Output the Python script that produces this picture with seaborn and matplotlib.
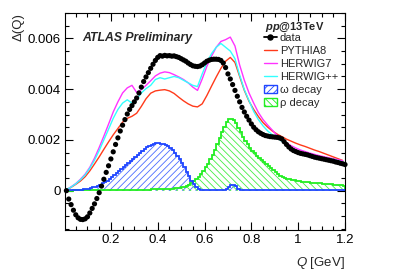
"""
Delta(Q) vs Q: ATLAS preliminary data compared to MC and resonance decays.
"""

import numpy as np
import matplotlib
matplotlib.use("Agg")
import matplotlib.pyplot as plt
from matplotlib.lines import Line2D
from matplotlib.patches import Patch
from matplotlib.ticker import MultipleLocator, FuncFormatter
import seaborn as sns

# values are in units of 1e-3
q_data = np.round(np.arange(0.01, 1.205, 0.01), 3)
data_vals = [
    0.0, -0.33, -0.55, -0.77, -0.95, -1.07, -1.13, -1.14, -1.11, -1.03,
    -0.88, -0.70, -0.52, -0.31, -0.08, 0.18, 0.45, 0.72, 0.98, 1.25,
    1.53, 1.82, 2.08, 2.35, 2.58, 2.80, 3.02, 3.20, 3.35, 3.50,
    3.65, 3.85, 4.08, 4.30, 4.48, 4.65, 4.82, 4.98, 5.13, 5.25,
    5.32, 5.30, 5.33, 5.31, 5.32, 5.30, 5.31, 5.28, 5.25, 5.20,
    5.15, 5.10, 5.03, 4.97, 4.92, 4.90, 4.89, 4.91, 4.96, 5.03,
    5.10, 5.14, 5.17, 5.18, 5.18, 5.17, 5.13, 5.03, 4.85, 4.60,
    4.40, 4.18, 3.95, 3.72, 3.50, 3.28, 3.10, 2.93, 2.78, 2.63,
    2.50, 2.40, 2.32, 2.26, 2.21, 2.17, 2.15, 2.13, 2.12, 2.11,
    2.10, 2.08, 2.04, 1.93, 1.82, 1.72, 1.64, 1.58, 1.54, 1.50,
    1.47, 1.45, 1.43, 1.41, 1.38, 1.35, 1.32, 1.30, 1.28, 1.26,
    1.24, 1.22, 1.20, 1.18, 1.16, 1.13, 1.11, 1.08, 1.06, 1.03,
]

q_mc = np.round(np.arange(0.01, 1.2, 0.02), 3)
pythia8 = [
    0.03, 0.13, 0.25, 0.38, 0.55, 0.78, 1.05, 1.33, 1.63, 1.92,
    2.20, 2.45, 2.70, 2.85, 2.93, 3.05, 3.32, 3.62, 3.84, 3.93,
    3.96, 3.98, 3.93, 3.83, 3.68, 3.54, 3.42, 3.33, 3.30, 3.42,
    3.75, 4.12, 4.48, 4.82, 5.10, 5.25, 5.05, 4.50, 3.95, 3.52,
    3.20, 2.92, 2.68, 2.50, 2.35, 2.23, 2.13, 2.03, 1.95, 1.87,
    1.80, 1.74, 1.67, 1.60, 1.54, 1.47, 1.40, 1.33, 1.26, 1.19,
]
herwig7 = [
    0.04, 0.15, 0.28, 0.45, 0.65, 0.92, 1.28, 1.70, 2.15, 2.62,
    3.10, 3.50, 3.85, 4.05, 4.15, 3.87, 3.98, 4.15, 4.33, 4.52,
    4.63, 4.68, 4.65, 4.57, 4.48, 4.38, 4.25, 4.08, 3.95, 4.40,
    4.90, 5.30, 5.65, 5.88, 5.95, 6.05, 5.70, 4.95, 4.35, 3.85,
    3.45, 3.08, 2.80, 2.58, 2.38, 2.18, 2.03, 1.88, 1.77, 1.68,
    1.60, 1.54, 1.48, 1.43, 1.38, 1.34, 1.30, 1.26, 1.22, 1.18,
]
herwigpp = [
    0.04, 0.14, 0.27, 0.43, 0.62, 0.88, 1.20, 1.58, 2.00, 2.42,
    2.85, 3.20, 3.45, 3.58, 3.45, 3.60, 3.85, 4.02, 4.15, 4.38,
    4.45, 4.40, 4.45, 4.50, 4.45, 4.35, 4.25, 4.15, 4.10, 4.60,
    5.05, 5.40, 5.65, 5.80, 5.65, 5.50, 5.20, 4.55, 3.98, 3.55,
    3.12, 2.80, 2.55, 2.35, 2.20, 2.08, 1.95, 1.82, 1.70, 1.58,
    1.48, 1.42, 1.38, 1.35, 1.32, 1.29, 1.26, 1.23, 1.18, 1.13,
]

edges = np.round(np.arange(0.0, 1.2001, 0.01), 3)
omega_decay = [
    0.00, 0.01, 0.01, 0.02, 0.02, 0.03, 0.03, 0.04, 0.05, 0.06,
    0.08, 0.10, 0.13, 0.16, 0.20, 0.24, 0.29, 0.34, 0.40, 0.46,
    0.53, 0.60, 0.68, 0.76, 0.84, 0.92, 1.00, 1.08, 1.16, 1.24,
    1.32, 1.41, 1.50, 1.58, 1.65, 1.71, 1.77, 1.81, 1.84, 1.86,
    1.86, 1.85, 1.83, 1.80, 1.76, 1.68, 1.60, 1.50, 1.38, 1.25,
    1.10, 0.92, 0.74, 0.56, 0.40, 0.26, 0.15, 0.08, 0.04, 0.02,
    0.01, 0.01, 0.01, 0.01, 0.01, 0.01, 0.01, 0.01, 0.01, 0.06,
    0.15, 0.22, 0.24, 0.17, 0.07, 0.02, 0.01, 0.01, 0.01, 0.01,
    0.01, 0.01, 0.01, 0.01, 0.01, 0.01, 0.01, 0.01, 0.01, 0.01,
    0.01, 0.01, 0.01, 0.01, 0.01, 0.01, 0.01, 0.01, 0.01, 0.01,
    0.01, 0.01, 0.01, 0.01, 0.01, 0.01, 0.01, 0.01, 0.01, 0.01,
    0.01, 0.01, 0.01, 0.01, 0.01, 0.01, 0.01, 0.01, 0.01, 0.01,
]
rho_decay = [
    0.00, 0.00, 0.00, 0.00, 0.01, 0.01, 0.01, 0.01, 0.01, 0.01,
    0.01, 0.01, 0.01, 0.01, 0.01, 0.02, 0.02, 0.02, 0.02, 0.02,
    0.02, 0.02, 0.02, 0.02, 0.02, 0.03, 0.03, 0.03, 0.03, 0.03,
    0.03, 0.03, 0.03, 0.04, 0.04, 0.04, 0.04, 0.05, 0.05, 0.05,
    0.05, 0.06, 0.06, 0.07, 0.07, 0.08, 0.08, 0.09, 0.10, 0.11,
    0.13, 0.16, 0.19, 0.24, 0.30, 0.37, 0.45, 0.55, 0.66, 0.78,
    0.92, 1.07, 1.24, 1.42, 1.62, 1.84, 2.08, 2.32, 2.52, 2.70,
    2.82, 2.84, 2.78, 2.65, 2.48, 2.30, 2.12, 1.96, 1.82, 1.70,
    1.58, 1.48, 1.38, 1.29, 1.20, 1.12, 1.04, 0.96, 0.88, 0.80,
    0.72, 0.65, 0.59, 0.54, 0.50, 0.47, 0.45, 0.43, 0.41, 0.39,
    0.37, 0.36, 0.35, 0.34, 0.33, 0.32, 0.31, 0.30, 0.30, 0.29,
    0.28, 0.27, 0.27, 0.26, 0.25, 0.24, 0.23, 0.22, 0.21, 0.20,
]

mc_labels = ["PYTHIA8", "HERWIG7", "HERWIG++"]
mc_colors = ["#ff3a1a", "#ff33ff", "#33ffff"]

sns.set_theme(style="ticks")
plt.rcParams["font.family"] = ["Liberation Sans", "DejaVu Sans"]
plt.rcParams["mathtext.fontset"] = "custom"
plt.rcParams["mathtext.rm"] = "Liberation Sans"
plt.rcParams["mathtext.it"] = "Liberation Sans:italic"
plt.rcParams["mathtext.bf"] = "Liberation Sans:bold"
plt.rcParams["mathtext.bfit"] = "Liberation Sans:italic:bold"
plt.rcParams["hatch.linewidth"] = 0.6

fig = plt.figure(figsize=(4.07, 2.76), dpi=100)
ax = fig.add_axes([65 / 407, 46 / 276, 280 / 407, 217 / 276])

# hatched resonance contributions
ax.stairs(np.array(omega_decay) * 1e-3, edges, fill=True, facecolor="none",
          edgecolor="#4a6cff", hatch="/////", linewidth=0)
ax.stairs(np.array(rho_decay) * 1e-3, edges, fill=True, facecolor="none",
          edgecolor="#44ee44", hatch="\\\\\\\\\\", linewidth=0)
ax.stairs(np.array(rho_decay) * 1e-3, edges, color="#22ee22", linewidth=1.3)
ax.stairs(np.array(omega_decay) * 1e-3, edges, color="#1f45ff", linewidth=1.3)

for vals, lab, col in zip([pythia8, herwig7, herwigpp], mc_labels, mc_colors):
    sns.lineplot(x=q_mc, y=np.array(vals) * 1e-3, color=col, linewidth=1.0,
                 ax=ax, sort=False, estimator=None)

sns.scatterplot(x=q_data, y=np.array(data_vals) * 1e-3, color="black", s=14,
                edgecolor="none", ax=ax, zorder=5, clip_on=False)

ax.set_xlim(0.004, 1.2)
ax.set_ylim(-0.00155, 0.0070)
ax.set_xticks([0.2, 0.4, 0.6, 0.8, 1.0, 1.2])
ax.xaxis.set_major_formatter(FuncFormatter(lambda v, p: f"{v:g}"))
ax.xaxis.set_minor_locator(MultipleLocator(0.05))
ax.set_yticks([0, 0.002, 0.004, 0.006])
ax.yaxis.set_major_formatter(FuncFormatter(lambda v, p: "0" if abs(v) < 1e-9 else f"{v:.3f}"))
ax.yaxis.set_minor_locator(MultipleLocator(0.0005))
ax.tick_params(which="both", direction="in", top=True, right=True,
               labelsize=9.5, width=0.8, colors="black")
ax.tick_params(which="major", length=6, pad=3)
ax.tick_params(which="minor", length=3)
for sp in ax.spines.values():
    sp.set_linewidth(0.8)
    sp.set_color("black")

ax.set_xlabel(r"$\it{Q}$ [GeV]", fontsize=9.5, loc="right")
ax.xaxis.set_label_coords(1.0, -0.115)
ax.set_ylabel("Δ(Q)", fontsize=9.5, loc="top")
ax.yaxis.set_label_coords(-0.143, 1.0)

ax.text(0.06, 0.885, "ATLAS Preliminary", transform=ax.transAxes,
        fontsize=8.8, fontweight="bold", fontstyle="italic", va="center")
ax.text(0.714, 0.935, r"$\mathbfit{pp}$@13TeV", transform=ax.transAxes,
        fontsize=8, fontweight="bold", va="center")

handles = [
    Line2D([], [], color="black", marker="o", markersize=3.6, linewidth=1.3),
    Line2D([], [], color=mc_colors[0], linewidth=1.0),
    Line2D([], [], color=mc_colors[1], linewidth=1.0),
    Line2D([], [], color=mc_colors[2], linewidth=1.0),
    Patch(facecolor="none", edgecolor="#1f45ff", hatch="/////", linewidth=1.0),
    Patch(facecolor="none", edgecolor="#22ee22", hatch="\\\\\\\\\\", linewidth=1.0),
]
labels = ["data"] + mc_labels + ["ω decay", "ρ decay"]
ax.legend(handles, labels, loc="upper left", bbox_to_anchor=(0.71, 0.908),
          frameon=False, fontsize=8, borderpad=0, handlelength=1.2,
          handleheight=0.8, handletextpad=0.25, labelspacing=0.26,
          borderaxespad=0)

fig.savefig("out.png", dpi=100)
